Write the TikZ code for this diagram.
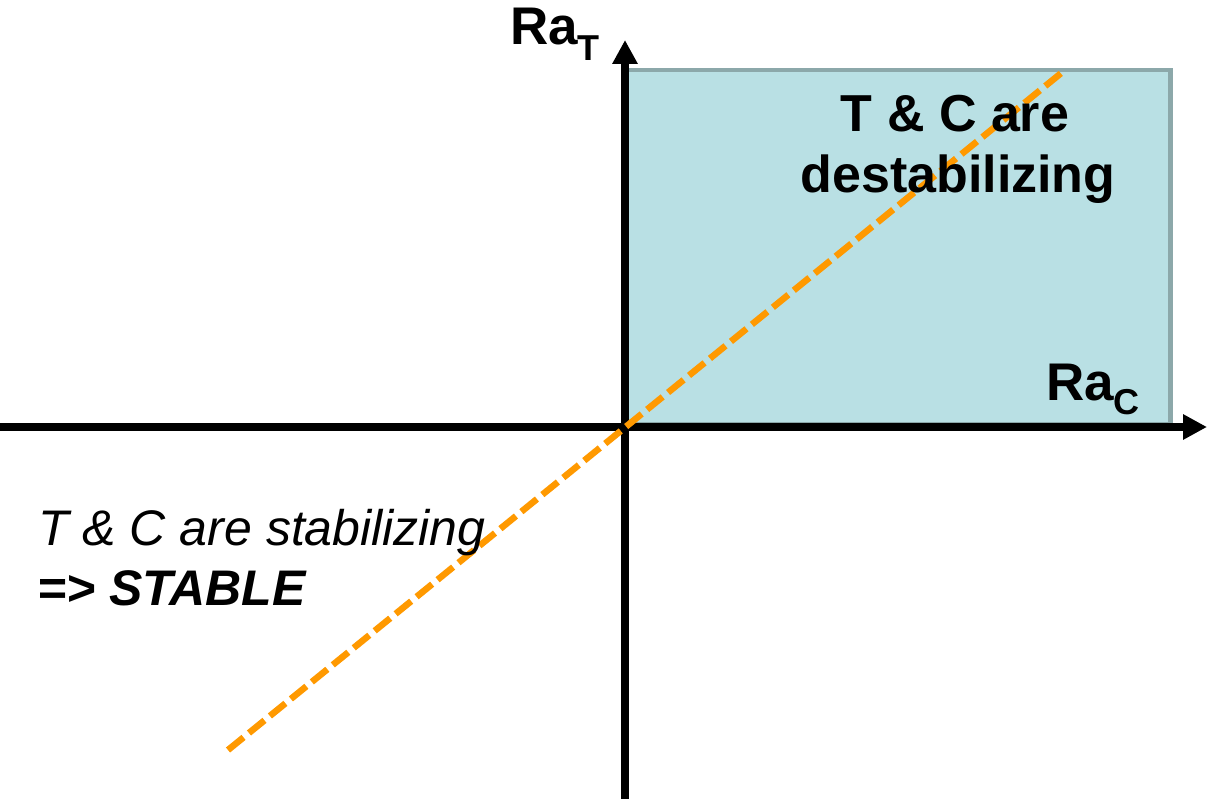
\documentclass[tikz,border=0pt]{standalone}
\usepackage{fontspec}
\setmainfont{Liberation Sans}
\usetikzlibrary{arrows.meta}
\definecolor{boxfill}{HTML}{B9E0E4}
\definecolor{boxedge}{HTML}{8CA8AA}
\definecolor{dashorange}{HTML}{FF9900}
\tikzset{
  axis/.style={line width=7.5pt, -{Triangle[length=24pt,width=24pt]}},
  region/.style={fill=boxfill, draw=boxedge, line width=4.5pt},
  diag/.style={draw=dashorange, line width=6.5pt, dash pattern=on 20pt off 7pt},
  big/.style={inner sep=0pt, font=\fontsize{52}{60}\selectfont},
  lbl/.style={inner sep=0pt, font=\fontsize{50}{58}\selectfont},
}
\newcommand{\subfs}{\fontsize{36}{40}\selectfont}
\begin{document}
\begin{tikzpicture}[x=1pt,y=-1pt]
\useasboundingbox (0,0) rectangle (1209,799);
\path[region] (627,424) rectangle (1170.5,70);
\coordinate (xs) at (0,427);
\coordinate (xe) at (1207,427);
\coordinate (ys) at (625,799);
\coordinate (ye) at (625,40);
\draw[axis] (xs) -- (xe);
\draw[axis] (ys) -- (ye);
\coordinate (dA) at (228,750);
\coordinate (dB) at (1065,70);
\draw[diag] (dA) -- (dB);
\node[big, anchor=base west, font=\fontsize{53}{60}\selectfont\bfseries] (raT) at (510,45) {Ra\raisebox{-16pt}{\subfs T}};
\node[big, anchor=base west, font=\fontsize{53}{60}\selectfont\bfseries] (raC) at (1046,400) {Ra\raisebox{-14pt}{\subfs C}};
\node[big, anchor=base, font=\fontsize{52}{60}\selectfont\bfseries] (d1) at (955,132) {T \& C are};
\node[big, anchor=base, font=\fontsize{52}{60}\selectfont\bfseries] (d2) at (958,193) {destabilizing};
\node[lbl, anchor=base west, font=\fontsize{50}{58}\selectfont\itshape] (s1) at (38,545) {T \& C are stabilizing};
\node[lbl, anchor=base west, font=\fontsize{50}{58}\selectfont\bfseries\itshape] (s2) at (37,605) {=> STABLE};
\end{tikzpicture}
\end{document}
